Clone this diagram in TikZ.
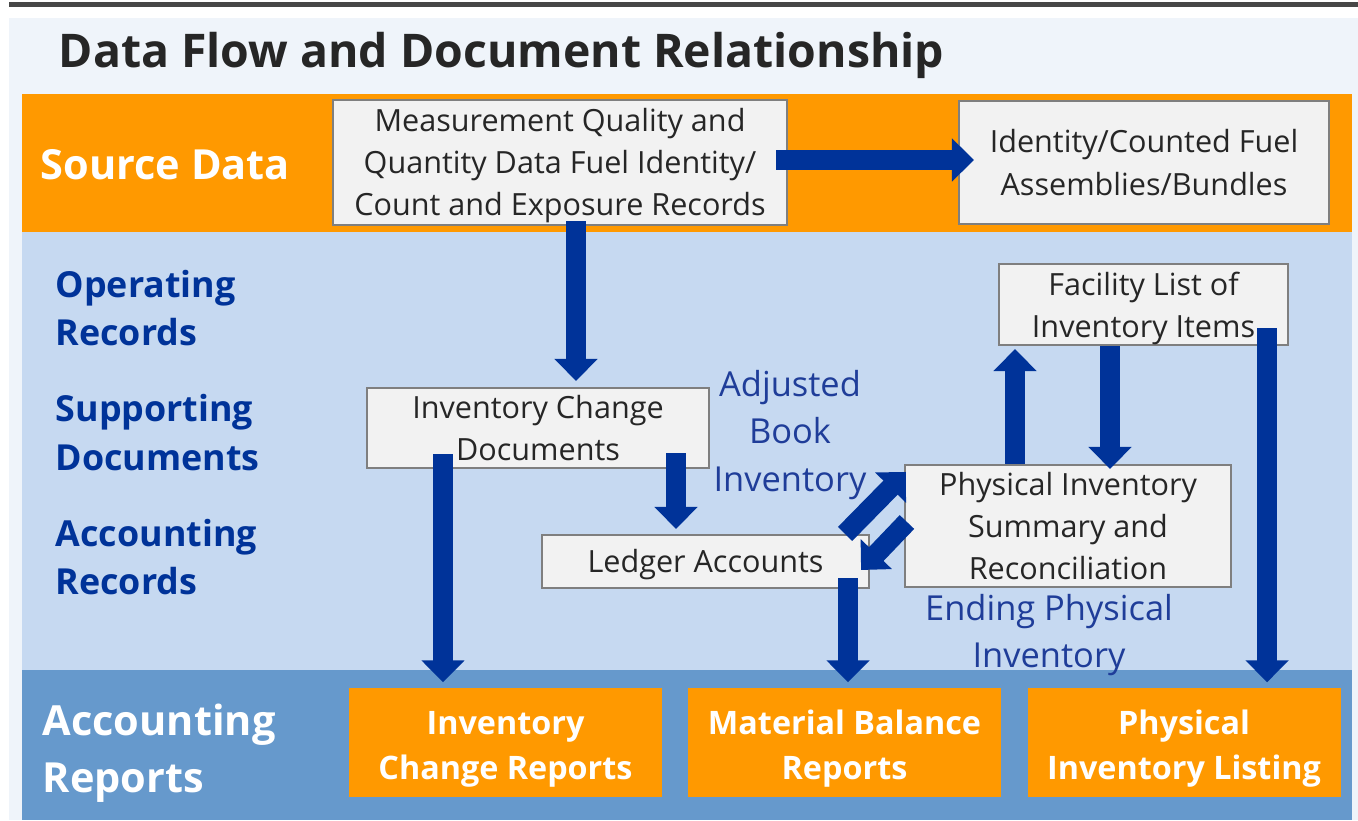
\documentclass[tikz,border=0pt]{standalone}
\usepackage{fontspec}
\setmainfont{Open Sans}
\usetikzlibrary{arrows.meta, positioning, calc}
\definecolor{srcorange}{HTML}{FF9900}
\definecolor{opband}{HTML}{C6D9F1}
\definecolor{repband}{HTML}{6699CC}
\definecolor{panel}{HTML}{EFF4FA}
\definecolor{boxfill}{HTML}{F2F2F2}
\definecolor{boxline}{HTML}{7F7F7F}
\definecolor{flowblue}{HTML}{003399}
\definecolor{labelblue}{HTML}{1F3D99}
\definecolor{textgray}{HTML}{262626}
\tikzstyle{docbox} = [rectangle, minimum width=3cm, minimum height=1cm, align=center, inner sep=0pt, draw=boxline, line width=0.6pt, fill=boxfill, text=textgray, font=\fontsize{8.7}{12}\selectfont]
\tikzstyle{report} = [rectangle, minimum width=3.13cm, minimum height=1.09cm, align=center, inner sep=0pt, text height=23.2pt, fill=srcorange, text=white, font=\bfseries\fontsize{9.2}{12.8}\selectfont]
\tikzstyle{bandlabel} = [anchor=west, align=left, inner sep=0pt, text=white, font=\bfseries\fontsize{11.8}{16.2}\selectfont]
\tikzstyle{rowlabel} = [anchor=west, align=left, inner sep=0pt, text=flowblue, font=\bfseries\fontsize{10.2}{13.7}\selectfont]
\tikzstyle{flowlabel} = [align=center, inner sep=0pt, text=labelblue, font=\fontsize{9.8}{13.4}\selectfont]
\tikzstyle{flowarrow} = [line width=0.2cm, draw=flowblue, -{Triangle[width=0.42cm,length=0.22cm]}]

\begin{document}
\begin{tikzpicture}
		\useasboundingbox (0,0) rectangle (13.58,8.20);
		% background and bands
		\fill[panel] (0.09,0) rectangle (13.58,8.02);
		\fill[textgray!85] (0.09,8.13) rectangle (13.58,8.18);
		\fill[srcorange] (0.22,5.88) rectangle (13.52,7.26);
		\fill[opband] (0.22,1.50) rectangle (13.52,5.88);
		\fill[repband] (0.22,0) rectangle (13.52,1.50);
		\node (title) [anchor=west, inner sep=0pt, text=textgray, font=\bfseries\fontsize{13.2}{16}\selectfont] at (0.58,7.65) {Data Flow and Document Relationship};
		% row labels
		\node (srcdata) [bandlabel] at (0.40,6.55) {Source Data};
		\node (oprec) [rowlabel] at (0.55,5.12) {Operating\\Records};
		\node (supdoc) [rowlabel] at (0.55,3.875) {Supporting\\Documents};
		\node (accrec) [rowlabel] at (0.55,2.63) {Accounting\\Records};
		\node (accrep) [bandlabel] at (0.42,0.67) {Accounting\\Reports};
		% documents
		\node (meas) [docbox, minimum width=4.54cm, minimum height=1.25cm, text height=32.3pt] at (5.60,6.575) {Measurement Quality and\\Quantity Data Fuel Identity/\\Count and Exposure Records};
		\node (ident) [docbox, right of=meas, xshift=4.84cm, minimum width=3.70cm, minimum height=1.23cm] {Identity/Counted Fuel\\Assemblies/Bundles};
		\node (invchg) [docbox, below of=meas, yshift=-1.655cm, xshift=-0.22cm, minimum width=3.42cm, minimum height=0.80cm] {Inventory Change\\Documents};
		\node (ledger) [docbox, below of=invchg, yshift=-0.335cm, xshift=1.675cm, minimum width=3.27cm, minimum height=0.53cm, text height=8.3pt] {Ledger Accounts};
		\node (phys) [docbox, right of=ledger, xshift=2.625cm, yshift=0.355cm, minimum width=3.26cm, minimum height=1.22cm] {Physical Inventory\\Summary and\\Reconciliation};
		\node (facil) [docbox, above of=phys, yshift=1.215cm, xshift=0.755cm, minimum width=2.89cm, minimum height=0.81cm, text height=20.9pt] {Facility List of\\Inventory Items};
		% reports
		\node (icr) [report, below of=invchg, yshift=-2.145cm, xshift=-0.325cm] {Inventory\\Change Reports};
		\node (mbr) [report, right of=icr, xshift=2.39cm] {Material Balance\\Reports};
		\node (pil) [report, right of=mbr, xshift=2.395cm] {Physical\\Inventory Listing};
		% flow labels
		\node (adjbook) [flowlabel] at (7.90,3.85) {Adjusted\\Book\\Inventory};
		\node (endphys) [flowlabel] at (10.49,1.845) {Ending Physical\\Inventory};
		% arrows
		\draw [flowarrow] ($(meas.east)+(-0.12,0.025)$) -- ($(ident.west)+(0.16,0.025)$);
		\draw [flowarrow] ($(meas.south)+(0.16,0.05)$) -- ($(meas.south |- invchg.north)+(0.16,0.06)$);
		\draw [flowarrow] ($(invchg.south)+(-0.95,0.15)$) -- ($(invchg.south |- icr.north)+(-0.95,0.05)$);
		\draw [flowarrow] ($(invchg.south)+(1.38,0.16)$) -- ($(invchg.south |- ledger.north)+(1.38,0.05)$);
		\draw [flowarrow] ($(ledger.north east)+(-0.25,0)$) -- ($(phys.north west)+(0.02,-0.08)$);
		\draw [flowarrow] ($(phys.west)+(0.03,0.04)$) -- ($(ledger.east)+(-0.09,-0.085)$);
		\draw [flowarrow] ($(ledger.south)+(1.425,0.11)$) -- ($(ledger.south |- mbr.north)+(1.425,0.05)$);
		\draw [flowarrow] ($(phys.north)+(-0.53,0)$) -- ($(phys.north |- facil.south)+(-0.53,-0.03)$);
		\draw [flowarrow] ($(facil.south)+(-0.335,0)$) -- ($(facil.south |- phys.north)+(-0.335,-0.05)$);
		\draw [flowarrow] ($(facil.south east)+(-0.22,0.18)$) -- ($(facil.south east |- pil.north)+(-0.22,0.05)$);
	\end{tikzpicture}
\end{document}
